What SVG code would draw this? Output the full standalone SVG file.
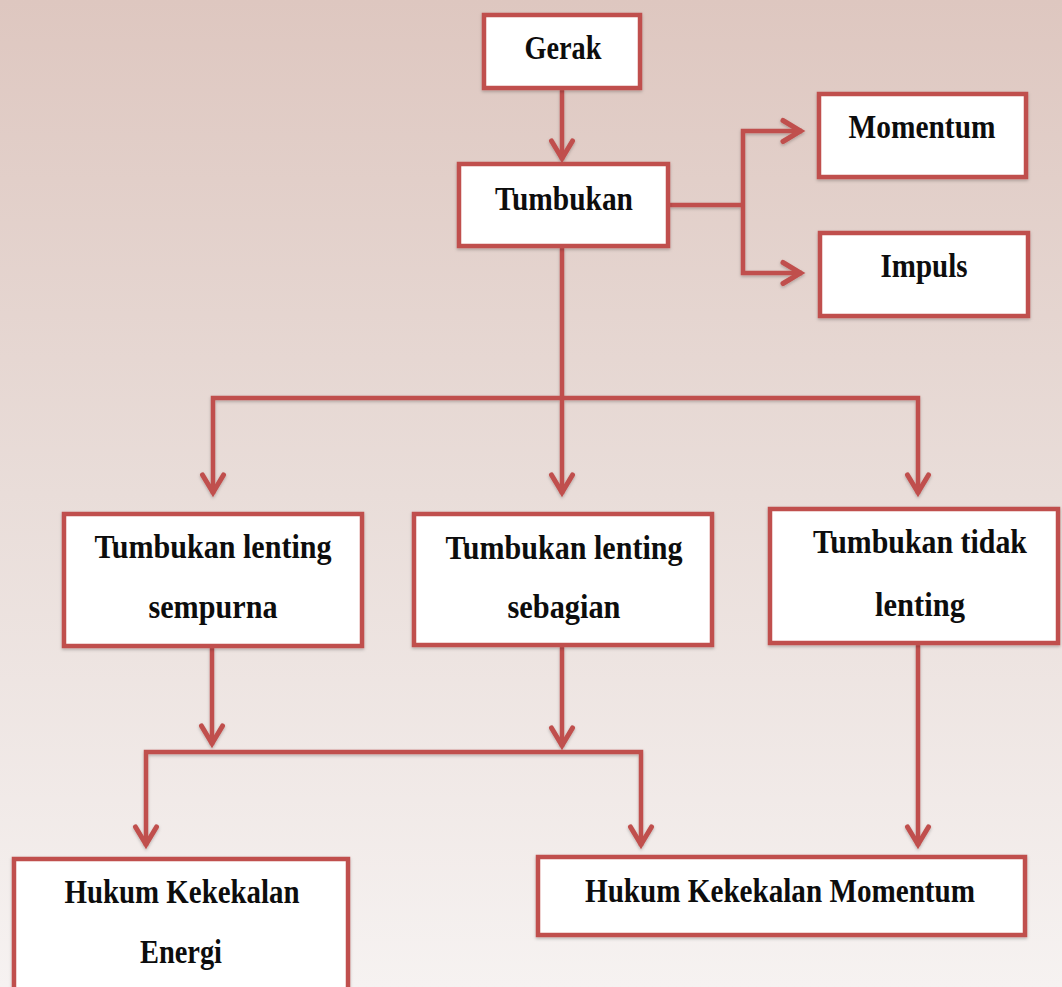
<svg xmlns="http://www.w3.org/2000/svg" width="1062" height="987" viewBox="0 0 1062 987">
<defs>
<linearGradient id="bg" x1="0" y1="0" x2="0" y2="1">
<stop offset="0" stop-color="#dec7c0"/>
<stop offset="0.5" stop-color="#e9ddd9"/>
<stop offset="1" stop-color="#f6f2f1"/>
</linearGradient>
<filter id="sh" x="-5%" y="-5%" width="110%" height="115%">
<feDropShadow dx="0" dy="1.5" stdDeviation="1.5" flood-color="#000" flood-opacity="0.25"/>
</filter>
<filter id="shc" filterUnits="userSpaceOnUse" x="0" y="0" width="1062" height="987">
<feDropShadow dx="0" dy="1.5" stdDeviation="1.5" flood-color="#000" flood-opacity="0.25"/>
</filter>
<marker id="ah" markerUnits="userSpaceOnUse" markerWidth="34" markerHeight="34" viewBox="-26 -17 34 34" refX="0" refY="0" orient="auto">
<path d="M-19,-10.5 L-1.5,0 L-19,10.5" fill="none" stroke="#c0504d" stroke-width="5" stroke-linecap="round" stroke-linejoin="miter"/>
</marker>
<style>
.box{fill:#ffffff;stroke:#c0504d;stroke-width:4.5;filter:url(#sh)}
.con{fill:none;stroke:#c0504d;stroke-width:4.5;stroke-linejoin:miter}
.arr{marker-end:url(#ah)}
text{font-family:"Liberation Serif","Times New Roman",serif;font-weight:bold;font-size:33px;fill:#0d0d0d;text-anchor:middle}
</style>
</defs>
<rect x="0" y="0" width="1062" height="987" fill="url(#bg)"/>

<g id="connectors" filter="url(#shc)">
<path class="con arr" d="M562,90 V160"/>
<path class="con" d="M670,205 H743"/>
<path class="con arr" d="M743,205 V131 H802"/>
<path class="con arr" d="M743,205 V273 H802"/>
<path class="con arr" d="M562,248 V494"/>
<path class="con arr" d="M562,398 H213 V494"/>
<path class="con arr" d="M562,398 H918 V494"/>
<path class="con arr" d="M212,647 V745"/>
<path class="con arr" d="M562,647 V747"/>
<path class="con arr" d="M394,752 H146 V846"/>
<path class="con arr" d="M394,752 H641 V846"/>
<path class="con arr" d="M918,645 V846"/>
</g>

<g id="gerak">
<rect class="box" x="484" y="15" width="156" height="73"/>
<text x="563" y="59" textLength="77" lengthAdjust="spacingAndGlyphs">Gerak</text>
</g>
<g id="tumbukan">
<rect class="box" x="459" y="164" width="209" height="82"/>
<text x="564" y="210" textLength="138" lengthAdjust="spacingAndGlyphs">Tumbukan</text>
</g>
<g id="momentum">
<rect class="box" x="819" y="94" width="207" height="83"/>
<text x="922" y="138" textLength="147" lengthAdjust="spacingAndGlyphs">Momentum</text>
</g>
<g id="impuls">
<rect class="box" x="820" y="233" width="208" height="83"/>
<text x="924" y="277" textLength="87" lengthAdjust="spacingAndGlyphs">Impuls</text>
</g>
<g id="lenting-sempurna">
<rect class="box" x="64" y="514" width="298" height="132"/>
<text x="213" y="558" textLength="237" lengthAdjust="spacingAndGlyphs">Tumbukan lenting</text>
<text x="213" y="618" textLength="129" lengthAdjust="spacingAndGlyphs">sempurna</text>
</g>
<g id="lenting-sebagian">
<rect class="box" x="414" y="514" width="298" height="131"/>
<text x="564" y="559" textLength="237" lengthAdjust="spacingAndGlyphs">Tumbukan lenting</text>
<text x="564" y="618" textLength="113" lengthAdjust="spacingAndGlyphs">sebagian</text>
</g>
<g id="tidak-lenting">
<rect class="box" x="770" y="509" width="288" height="134"/>
<text x="920" y="553" textLength="214" lengthAdjust="spacingAndGlyphs">Tumbukan tidak</text>
<text x="920" y="616" textLength="90" lengthAdjust="spacingAndGlyphs">lenting</text>
</g>
<g id="hukum-energi">
<rect class="box" x="14" y="859" width="334" height="150"/>
<text x="182" y="903" textLength="235" lengthAdjust="spacingAndGlyphs">Hukum Kekekalan</text>
<text x="181" y="963" textLength="82" lengthAdjust="spacingAndGlyphs">Energi</text>
</g>
<g id="hukum-momentum">
<rect class="box" x="538" y="857" width="487" height="78"/>
<text x="780" y="902" textLength="390" lengthAdjust="spacingAndGlyphs">Hukum Kekekalan Momentum</text>
</g>
</svg>
